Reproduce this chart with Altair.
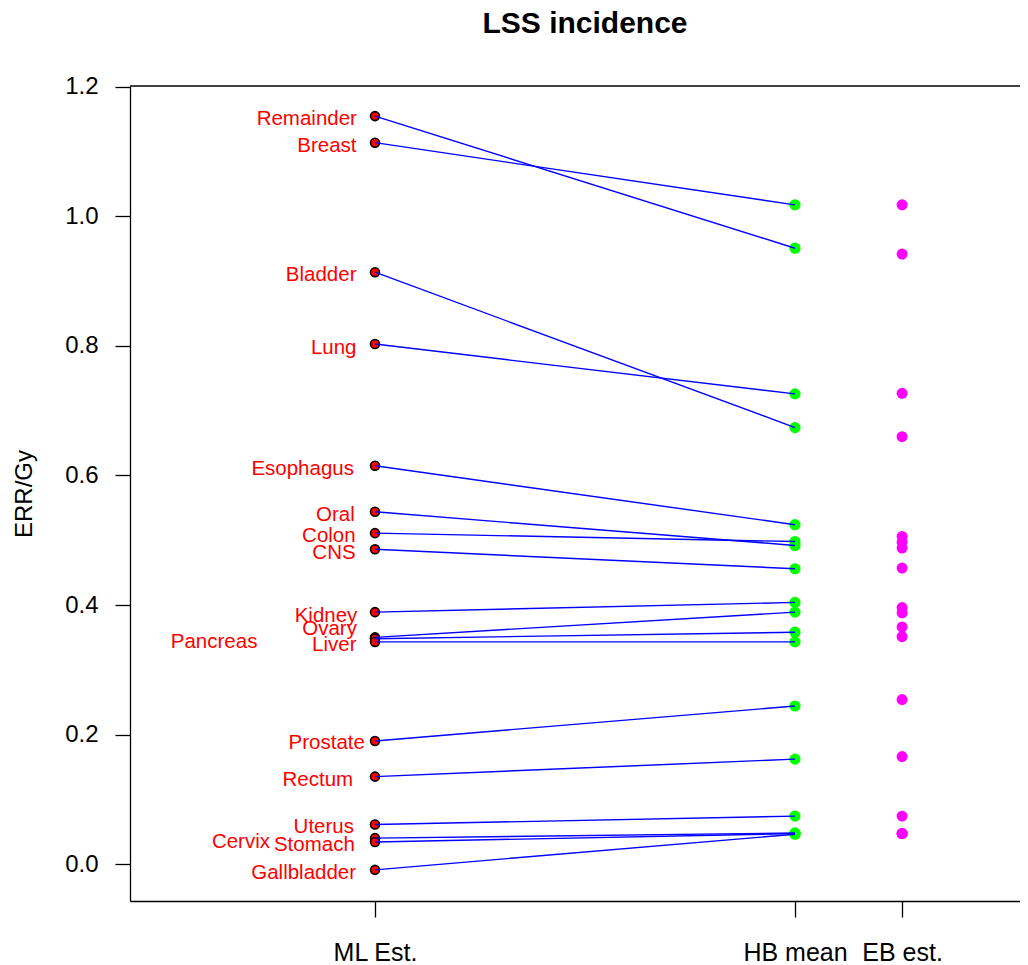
import altair as alt
import pandas as pd

# ---- data ----
sites = ["Remainder", "Breast", "Bladder", "Lung", "Esophagus", "Oral", "Colon",
         "CNS", "Kidney", "Ovary", "Pancreas", "Liver", "Prostate", "Rectum",
         "Uterus", "Cervix", "Stomach", "Gallbladder"]
ml_est = [1.155, 1.114, 0.914, 0.803, 0.615, 0.544, 0.511, 0.486, 0.389, 0.350,
          0.348, 0.343, 0.190, 0.135, 0.061, 0.040, 0.034, -0.009]
hb_mean = [0.951, 1.018, 0.674, 0.726, 0.524, 0.492, 0.498, 0.456, 0.404, 0.389,
           0.358, 0.343, 0.244, 0.162, 0.074, 0.048, 0.047, 0.046]
eb_est = [0.942, 1.018, 0.660, 0.727, 0.506, 0.488, 0.497, 0.457, 0.396, 0.388,
          0.366, 0.351, 0.254, 0.166, 0.074, 0.047, 0.047, 0.047]
# text anchor of each site label (data units, as placed in the original)
label_x = [0.957, 0.956, 0.956, 0.956, 0.950, 0.952, 0.954, 0.954, 0.958, 0.957,
           0.720, 0.956, 0.976, 0.948, 0.950, 0.750, 0.952, 0.955]
label_y = [1.151, 1.109, 0.910, 0.797, 0.610, 0.539, 0.506, 0.480, 0.383, 0.363,
           0.343, 0.338, 0.187, 0.129, 0.057, 0.034, 0.029, -0.014]

stage_names = ["ML Est.", "HB mean", "EB est."]
stage_pos = [1.0, 2.0, 2.255]
y_ticks = [0.0, 0.2, 0.4, 0.6, 0.8, 1.0, 1.2]
chart_title = ["LSS incidence"]

x_domain = [0.4167, 2.5357]
y_domain = [-0.0571, 1.2015]

FONT = "Liberation Sans"
W, H = 890, 815

df = pd.DataFrame({
    "site": sites, "ml": ml_est, "hb": hb_mean, "eb": eb_est,
    "lx": label_x, "ly": label_y,
    "x_ml": stage_pos[0], "x_hb": stage_pos[1], "x_eb": stage_pos[2],
})

label_expr = (f"datum.value < 1.5 ? '{stage_names[0]}' : "
              f"datum.value < 2.1 ? '{stage_names[1]}' : '{stage_names[2]}'")

xscale = alt.Scale(domain=x_domain, nice=False, zero=False)
yscale = alt.Scale(domain=y_domain, nice=False, zero=False)

x_axis = alt.Axis(values=stage_pos, labelExpr=label_expr, title=None, grid=False,
                  domainColor="black", domainWidth=1.3, tickColor="black",
                  tickWidth=1.3, tickSize=16, labelFont=FONT, labelFontSize=25,
                  labelColor="black", labelPadding=23, labelFlush=False,
                  labelOverlap=False)
y_axis = alt.Axis(values=y_ticks, format=".1f", title="ERR/Gy", grid=False,
                  domainColor="black", domainWidth=1.3, tickColor="black",
                  tickWidth=1.3, tickSize=15, labelFont=FONT, labelFontSize=24,
                  labelColor="black", labelPadding=17, titleFont=FONT,
                  titleFontSize=24, titleFontWeight="normal", titleColor="black",
                  titleAngle=270, titleBaseline="alphabetic", titleX=-99,
                  titleY=H / 2, titleAlign="center")

base = alt.Chart(df)

ml_pts = base.mark_point(shape="circle", filled=True, fill="#ff0000",
                         stroke="black", strokeWidth=1.6, size=80, opacity=1).encode(
    x=alt.X("x_ml:Q", scale=xscale, axis=x_axis),
    y=alt.Y("ml:Q", scale=yscale, axis=y_axis),
)
hb_pts = base.mark_circle(color="#00ff00", size=125, opacity=1).encode(
    x=alt.X("x_hb:Q", scale=xscale),
    y=alt.Y("hb:Q", scale=yscale),
)
eb_pts = base.mark_circle(color="#ff00ff", size=120, opacity=1).encode(
    x=alt.X("x_eb:Q", scale=xscale),
    y=alt.Y("eb:Q", scale=yscale),
)
links = base.mark_rule(color="#0000ff", strokeWidth=1.4).encode(
    x=alt.X("x_ml:Q", scale=xscale),
    x2="x_hb:Q",
    y=alt.Y("ml:Q", scale=yscale),
    y2="hb:Q",
)
labels = base.mark_text(align="right", baseline="middle", color="#ff0000",
                        font=FONT, fontSize=20.5).encode(
    x=alt.X("lx:Q", scale=xscale),
    y=alt.Y("ly:Q", scale=yscale),
    text="site:N",
)
top_line = alt.Chart(pd.DataFrame({"k": [0]})).mark_rule(
    color="black", strokeWidth=1.3).encode(
    x=alt.value(0), x2=alt.value(W), y=alt.value(0))

title_text = alt.Chart(pd.DataFrame({"t": chart_title})).mark_text(
    font=FONT, fontSize=30, fontWeight="bold", color="black",
    align="center", baseline="alphabetic").encode(
    text="t:N", x=alt.value(455), y=alt.value(-53))

chart = alt.layer(ml_pts, hb_pts, eb_pts, links, labels, top_line, title_text).properties(
    width=W, height=H,
    autosize=alt.AutoSizeParams(type="none"),
    padding={"left": 122, "top": 78, "right": 0, "bottom": 64},
    background="white",
).configure_view(stroke=None)

chart.save("out.html", embed_options={"renderer": "svg", "actions": False})
